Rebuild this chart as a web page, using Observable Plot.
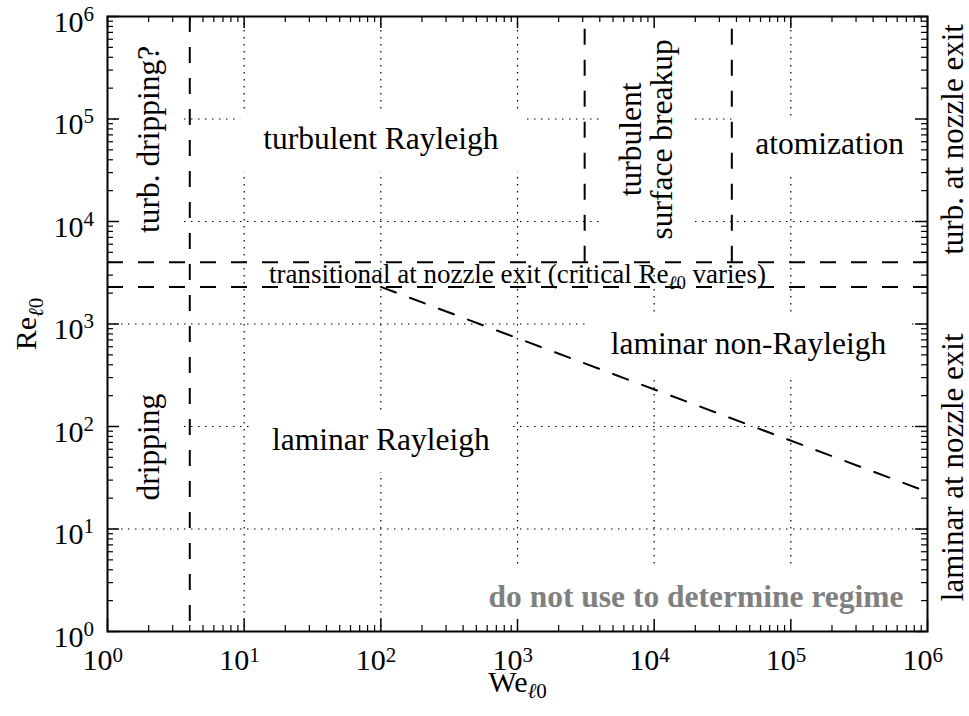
<!DOCTYPE html>
<html>
<head>
<meta charset="utf-8">
<script src="https://cdn.jsdelivr.net/npm/d3@7"></script>
<script src="https://cdn.jsdelivr.net/npm/@observablehq/plot@0.6"></script>
<style>
  html, body { margin: 0; padding: 0; background: #fff; }
  svg { display: block; }
</style>
</head>
<body>
<div id="chart"></div>
<script>
// ---- data ----
const decadeExponents = [0, 1, 2, 3, 4, 5, 6];
const gridValues = [1e1, 1e2, 1e3, 1e4, 1e5];
const drippingWe = [4];
const transitionRe = [2300, 4000];
const breakupWe = [3100, 37000];
const boundaryWe = [100, 1e6];
const boundaryRe = [2300, 23];

const regionLabels = ["turb. dripping?", "dripping", "turbulent Rayleigh", "turbulent\nsurface breakup", "atomization", "laminar non-Rayleigh", "laminar Rayleigh"];
const regionWe = [2, 2, 100, 8800, 192000, 49000, 100];
const regionRe = [63246, 63, 63246, 63246, 57000, 640, 74];
const regionRotate = [-90, -90, 0, -90, 0, 0, 0];

const transitionalLabel = ["transitional at nozzle exit (critical Reℓ0 varies)"];
const transitionalWe = [1000];

const sideLabels = ["turb. at nozzle exit", "laminar at nozzle exit"];
const sideRe = [63246, 40];

const noteLabel = ["do not use to determine regime"];
const xLabel = ["Weℓ0"];
const yLabel = ["Reℓ0"];

// ---- layout ----
const W = 969, H = 716;
const mL = 107, mR = 42, mT = 16, mB = 85;
const plotW = W - mL - mR, plotH = H - mT - mB;
const majorLen = 12, minorLen = 6;

const majorTicks = decadeExponents.map(e => 10 ** e);
const minorTicks = d3.range(0, 6).flatMap(e => d3.range(2, 10).map(m => m * 10 ** e));

const regions = regionLabels.map((label, i) => ({label, We: regionWe[i], Re: regionRe[i], rotate: regionRotate[i]}));
const boundary = boundaryWe.map((w, i) => ({We: w, Re: boundaryRe[i]}));
const transitionalRe = Math.sqrt(transitionRe[0] * transitionRe[1]);

const dash = {stroke: "black", strokeWidth: 2, strokeDasharray: "16,15"};
const dot = {stroke: "black", strokeWidth: 1.2, strokeDasharray: "1.5,5.5"};

const svg = Plot.plot({
  width: W, height: H,
  marginLeft: mL, marginRight: mR, marginTop: mT, marginBottom: mB,
  style: {fontFamily: "'Liberation Serif', 'Times New Roman', serif", background: "white", color: "black"},
  x: {type: "log", domain: [1, 1e6], axis: null},
  y: {type: "log", domain: [1, 1e6], axis: null},
  marks: [
    // grid
    Plot.ruleX(gridValues, {x: d => d, ...dot}),
    Plot.ruleY(gridValues, {y: d => d, ...dot}),
    // region labels (white boxes added after render)
    Plot.text(regions, {x: "We", y: "Re", text: "label", rotate: "rotate", fontSize: 31.5, lineHeight: 1.0,
      textAnchor: "middle", lineAnchor: "middle", fill: "black"}),
    Plot.text(noteLabel, {frameAnchor: "bottom-right", text: d => d, dx: -24, dy: -25, textAnchor: "end",
      lineAnchor: "bottom", fontSize: 31.5, fontWeight: "bold", fill: "#808080"}),
    // regime boundaries
    Plot.ruleX(drippingWe, {x: d => d, ...dash}),
    Plot.ruleY(transitionRe, {y: d => d, ...dash}),
    Plot.ruleX(breakupWe, {x: d => d, y1: transitionRe[1], y2: 1e6, ...dash}),
    Plot.line(boundary, {x: "We", y: "Re", ...dash}),
    Plot.text(transitionalLabel, {x: (d, i) => transitionalWe[i], y: () => transitionalRe, text: d => d,
      fontSize: 27, textAnchor: "middle", lineAnchor: "middle", fill: "black"}),
    // frame and ticks
    Plot.frame({stroke: "black", strokeWidth: 2}),
    Plot.ruleX(majorTicks, {x: d => d, insetTop: plotH - majorLen, stroke: "black", strokeWidth: 1.5}),
    Plot.ruleX(majorTicks, {x: d => d, insetBottom: plotH - majorLen, stroke: "black", strokeWidth: 1.5}),
    Plot.ruleX(minorTicks, {x: d => d, insetTop: plotH - minorLen, stroke: "black", strokeWidth: 1.2}),
    Plot.ruleX(minorTicks, {x: d => d, insetBottom: plotH - minorLen, stroke: "black", strokeWidth: 1.2}),
    Plot.ruleY(majorTicks, {y: d => d, insetRight: plotW - majorLen, stroke: "black", strokeWidth: 1.5}),
    Plot.ruleY(majorTicks, {y: d => d, insetLeft: plotW - majorLen, stroke: "black", strokeWidth: 1.5}),
    Plot.ruleY(minorTicks, {y: d => d, insetRight: plotW - minorLen, stroke: "black", strokeWidth: 1.2}),
    Plot.ruleY(minorTicks, {y: d => d, insetLeft: plotW - minorLen, stroke: "black", strokeWidth: 1.2}),
    // tick labels
    Plot.text(decadeExponents, {x: e => 10 ** e, frameAnchor: "bottom", text: () => "10", textAnchor: "end",
      lineAnchor: "bottom", dx: 5, dy: 38, fontSize: 30, fill: "black"}),
    Plot.text(decadeExponents, {x: e => 10 ** e, frameAnchor: "bottom", text: e => String(e), textAnchor: "start",
      lineAnchor: "bottom", dx: 5, dy: 30, fontSize: 21, fill: "black"}),
    Plot.text(decadeExponents, {y: e => 10 ** e, frameAnchor: "left", text: () => "10", textAnchor: "end",
      lineAnchor: "bottom", dx: -24, dy: 15, fontSize: 30, fill: "black"}),
    Plot.text(decadeExponents, {y: e => 10 ** e, frameAnchor: "left", text: e => String(e), textAnchor: "start",
      lineAnchor: "bottom", dx: -24, dy: 4, fontSize: 21, fill: "black"}),
    // axis labels
    Plot.text(xLabel, {frameAnchor: "bottom", text: d => d, dy: 60, textAnchor: "middle", lineAnchor: "bottom", fontSize: 30, fill: "black"}),
    Plot.text(yLabel, {frameAnchor: "left", text: d => d, dx: -81, rotate: -90, textAnchor: "middle", lineAnchor: "middle", fontSize: 30, fill: "black"}),
    // right-side labels
    Plot.text(sideLabels, {frameAnchor: "right", y: (d, i) => sideRe[i], text: d => d, rotate: -90, dx: 26,
      textAnchor: "middle", lineAnchor: "middle", fontSize: 31, fill: "black"})
  ]
});

document.getElementById("chart").append(svg);

// white boxes behind region labels
const NS = "http://www.w3.org/2000/svg";
const bgSet = new Set([...regionLabels.map(s => s.replace(/\n/g, "")), ...noteLabel]);
const padX = 23, padTop = 10, padBottom = 15;
for (const t of svg.querySelectorAll("text")) {
  if (!bgSet.has(t.textContent)) continue;
  const b = t.getBBox();
  const r = document.createElementNS(NS, "rect");
  r.setAttribute("x", b.x - padX);
  r.setAttribute("y", b.y - padTop);
  r.setAttribute("width", b.width + 2 * padX);
  r.setAttribute("height", b.height + padTop + padBottom);
  r.setAttribute("fill", "white");
  const tr = t.getAttribute("transform");
  if (tr) r.setAttribute("transform", tr);
  t.parentNode.insertBefore(r, t);
}

// subscript ℓ0
for (const t of svg.querySelectorAll("text")) {
  const s = t.textContent;
  const i = s.indexOf("ℓ0");
  if (i < 0 || t.querySelector("tspan")) continue;
  const fs = parseFloat(getComputedStyle(t).fontSize);
  const sub = 0.7 * fs, shift = 0.22 * fs;
  t.textContent = "";
  const mk = (txt, attrs) => {
    const sp = document.createElementNS(NS, "tspan");
    sp.textContent = txt;
    for (const k in attrs) sp.setAttribute(k, attrs[k]);
    t.appendChild(sp);
  };
  mk(s.slice(0, i), {});
  mk("ℓ", {"font-style": "italic", "font-size": sub, dy: shift});
  mk("0", {"font-size": sub});
  const rest = s.slice(i + 2);
  if (rest) mk(rest, {dy: -shift});
}
</script>
</body>
</html>
